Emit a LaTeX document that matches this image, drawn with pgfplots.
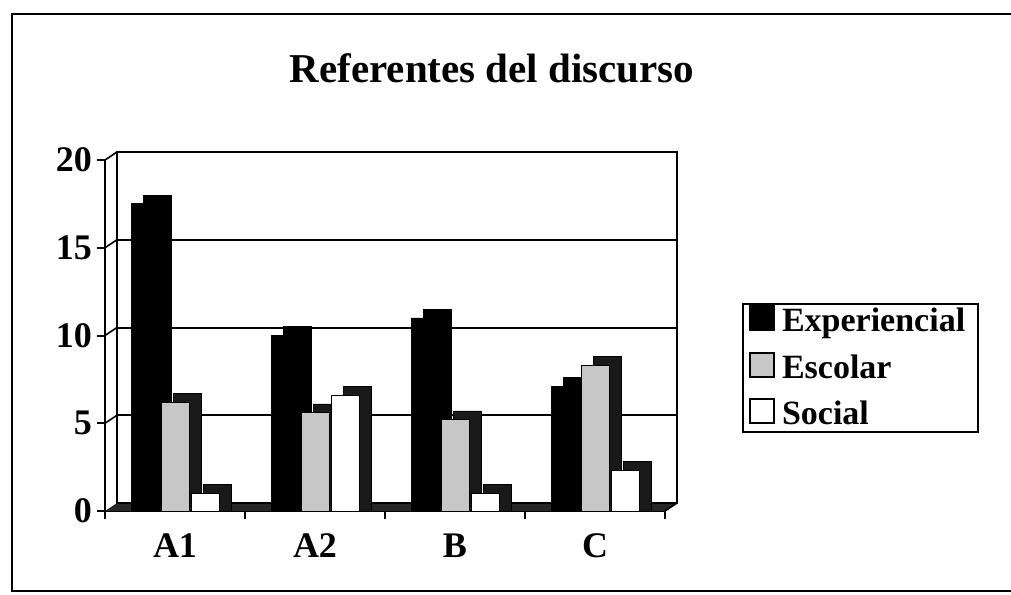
\documentclass[border=0pt]{standalone}
\usepackage{fontspec}
\setmainfont{Liberation Serif}
\usepackage{pgfplots}
\pgfplotsset{compat=1.18}
\begin{document}
\begin{tikzpicture}
\useasboundingbox (-52.5pt,-41.5pt) rectangle (453pt,255.5pt);
\draw[line width=1pt] (453pt,248.5pt) -- (-46.5pt,248.5pt) -- (-46.5pt,-40pt) -- (453pt,-40pt);
\node[font=\fontsize{20.5}{24}\selectfont\bfseries, anchor=base] at (193.5pt,214pt) {Referentes del discurso};
\begin{axis}[
  at={(0,0)}, anchor=south west, scale only axis, width=280pt, height=175.5pt,
  xmin=-0.5, xmax=3.5, ymin=0, ymax=20, clip=false,
  axis lines*=left, axis line style={line width=1pt},
  ytick={0,5,10,15,20},
  tick style={line width=1pt, black}, tick align=outside, major tick length=4pt,
  xtick={-0.5,0.5,1.5,2.5,3.5}, xticklabels={},
  extra x ticks={0,1,2,3}, extra x tick labels={A1,A2,B,C},
  extra x tick style={major tick length=0pt, xticklabel style={yshift=-8pt}},
  ticklabel style={font=\fontsize{18}{20}\selectfont\bfseries},
  yticklabel style={xshift=1pt},
  /pgf/number format/assume math mode=true,
  legend image code/.code={\draw[#1, line width=1pt] (0pt,-4.5pt) rectangle (12pt,7.5pt);},
  legend style={at={(1.1375,0.5926)}, anchor=north west, draw=black, line width=1pt,
    font=\fontsize{17}{20}\selectfont\bfseries, row sep=6pt, inner xsep=3pt, inner ysep=0pt,
    nodes={inner xsep=3.5pt}},
  legend cell align=left,
]
% floor and back wall
\fill[black!85] (axis cs:-0.5,0) -- (axis cs:3.5,0) -- ([shift={(6pt,4pt)}]axis cs:3.5,0) -- ([shift={(6pt,4pt)}]axis cs:-0.5,0) -- cycle;
\draw[line width=1pt] ([shift={(6pt,4pt)}]axis cs:-0.5,0) rectangle ([shift={(6pt,4pt)}]axis cs:3.5,20);
\draw[line width=1pt] ([shift={(6pt,4pt)}]axis cs:-0.5,5) -- ([shift={(6pt,4pt)}]axis cs:3.5,5);
\draw[line width=1pt] ([shift={(6pt,4pt)}]axis cs:-0.5,10) -- ([shift={(6pt,4pt)}]axis cs:3.5,10);
\draw[line width=1pt] ([shift={(6pt,4pt)}]axis cs:-0.5,15) -- ([shift={(6pt,4pt)}]axis cs:3.5,15);
\draw[line width=0.8pt] (axis cs:-0.5,20) -- ([shift={(6pt,4pt)}]axis cs:-0.5,20);
\draw[line width=0.8pt] (axis cs:-0.5,15) -- ([shift={(6pt,4pt)}]axis cs:-0.5,15);
\draw[line width=0.8pt] (axis cs:-0.5,10) -- ([shift={(6pt,4pt)}]axis cs:-0.5,10);
\draw[line width=0.8pt] (axis cs:-0.5,5) -- ([shift={(6pt,4pt)}]axis cs:-0.5,5);
\draw[line width=0.8pt] (axis cs:3.5,0) -- ([shift={(6pt,4pt)}]axis cs:3.5,0);
% Experiencial
\addplot[ybar, bar width=14pt, bar shift=-9pt, fill=black, draw=black, forget plot]
  coordinates {(0,18.0) (1,10.5) (2,11.5) (3,7.6)};
\addplot[ybar, bar width=14pt, bar shift=-15pt, fill=black, draw=black]
  coordinates {(0,17.5) (1,10.0) (2,11.0) (3,7.1)};
% Escolar
\addplot[ybar, bar width=14pt, bar shift=6pt, fill=black!90, draw=black, forget plot]
  coordinates {(0,6.7) (1,6.1) (2,5.7) (3,8.8)};
\addplot[ybar, bar width=14pt, bar shift=0pt, fill=black!22, draw=black]
  coordinates {(0,6.2) (1,5.6) (2,5.2) (3,8.3)};
% Social
\addplot[ybar, bar width=14pt, bar shift=21pt, fill=black!90, draw=black, forget plot]
  coordinates {(0,1.5) (1,7.1) (2,1.5) (3,2.8)};
\addplot[ybar, bar width=14pt, bar shift=15pt, fill=white, draw=black]
  coordinates {(0,1.0) (1,6.6) (2,1.0) (3,2.3)};
\legend{Experiencial,Escolar,Social}
\end{axis}
\end{tikzpicture}
\end{document}
